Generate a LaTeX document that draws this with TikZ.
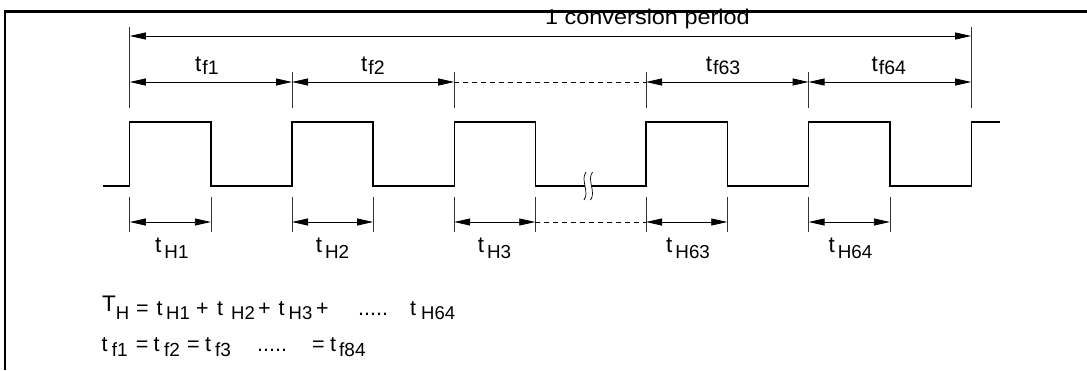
\documentclass[tikz,border=0pt]{standalone}
\usepackage{fontspec}
\setmainfont{Liberation Sans}
\newfontfamily\titlefont{Liberation Sans}[FakeStretch=1.1]
\usetikzlibrary{arrows.meta}
\newcommand{\tk}[2]{\makebox[#1pt][l]{#2}}
\newcommand{\sz}[2]{{\fontsize{#1}{#1}\selectfont #2}}
\newcommand{\dn}[3]{\raisebox{-#1pt}{\fontsize{#2}{#2}\selectfont #3}}
\begin{document}
\begin{tikzpicture}[x=1pt,y=-1pt,
  dim/.style={line width=0.8pt, {Triangle[length=16pt,width=7pt]}-{Triangle[length=16pt,width=7pt]}},
  ext/.style={line width=0.7pt, black!80},
  sig/.style={line width=1.3pt},
  frameln/.style={line width=2.4pt},
  dashln/.style={line width=0.8pt, dash pattern=on 5pt off 4pt},
  lbl/.style={anchor=base west, inner sep=0pt, font=\fontsize{22.5}{22.5}\selectfont},
  frm/.style={anchor=base west, inner sep=0pt, font=\fontsize{21.5}{21.5}\selectfont}]
\useasboundingbox (0,0) rectangle (1087,370);
% frame (top and left edges)
\draw[frameln] (5,370) -- (5,11.5) -- (1087,11.5);
% title
\node[anchor=base west, inner sep=0pt, font=\titlefont\fontsize{21.3}{21.3}\selectfont] (title) at (545,24.3) {1 conversion period};
% edge coordinates
\foreach \n/\x in {r1/129.8, f1/210.9, r2/292, f2/373.1, r3/454.2, f3/535.3, r4/646, f4/727.3, r5/808.6, f5/889.9, r6/971.2}{
  \coordinate (\n-t) at (\x,72);
  \coordinate (\n-m) at (\x,82);
  \coordinate (\n-b) at (\x,108);
  \coordinate (\n-lt) at (\x,197);
  \coordinate (\n-lm) at (\x,222);
  \coordinate (\n-lb) at (\x,232);
}
\coordinate (top1) at (129.8,27);
\coordinate (top6) at (971.2,27);
\coordinate (big1) at (129.8,36);
\coordinate (big6) at (971.2,36);
% extension lines (upper)
\draw[ext] (top1) -- (r1-b);
\draw[ext] (top6) -- (r6-b);
\foreach \n in {r2,r3,r4,r5}{ \draw[ext] (\n-t) -- (\n-b); }
% big arrow
\draw[dim] (big1) -- (big6);
% tf arrows
\draw[dim] (r1-m) -- (r2-m);
\draw[dim] (r2-m) -- (r3-m);
\draw[dashln] (r3-m) -- (r4-m);
\draw[dim] (r4-m) -- (r5-m);
\draw[dim] (r5-m) -- (r6-m);
% tf labels
\node[lbl] (tf1) at (195,71) {t\hspace{1pt}\dn{3}{19.5}{f1}};
\node[lbl] (tf2) at (361,71) {t\hspace{1pt}\dn{3}{19.5}{f2}};
\node[lbl] (tf63) at (705.7,71) {t\hspace{1pt}\dn{3}{19.5}{f63}};
\node[lbl] (tf64) at (871.5,71) {t\hspace{1pt}\dn{3}{19.5}{f64}};
% signal
\draw[sig] (103,186) -- (129.8,186) -- (129.8,122) -- (210.9,122) -- (210.9,186) -- (292,186) -- (292,122) -- (373.1,122) -- (373.1,186) -- (454.2,186) -- (454.2,122) -- (535.3,122) -- (535.3,186) -- (585,186);
\draw[sig] (591.5,186) -- (646,186) -- (646,122) -- (727.3,122) -- (727.3,186) -- (808.6,186) -- (808.6,122) -- (889.9,122) -- (889.9,186) -- (971.2,186) -- (971.2,122) -- (1000,122);
% break mark
\draw[line width=0.7pt] (586,172) .. controls (580,180) and (590,192) .. (584,200);
\draw[line width=0.7pt] (592.5,172) .. controls (586.5,180) and (596.5,192) .. (590.5,200);
% lower ticks
\foreach \n in {r1,f1,r2,f2,r3,f3,r4,f4,r5,f5}{ \draw[ext] (\n-lt) -- (\n-lb); }
\draw[dim] (r1-lm) -- (f1-lm);
\draw[dim] (r2-lm) -- (f2-lm);
\draw[dim] (r3-lm) -- (f3-lm);
\draw[dashln] (f3-lm) -- (r4-lm);
\draw[dim] (r4-lm) -- (f4-lm);
\draw[dim] (r5-lm) -- (f5-lm);
% tH labels
\node[lbl] (th1) at (155,252) {t\hspace{3pt}\dn{6.7}{18.8}{H1}};
\node[lbl] (th2) at (315.7,252) {t\hspace{3pt}\dn{6.7}{18.8}{H2}};
\node[lbl] (th3) at (477.7,252) {t\hspace{3pt}\dn{6.7}{18.8}{H3}};
\node[lbl] (th63) at (666,252) {t\hspace{3pt}\dn{6.7}{18.8}{H63}};
\node[lbl] (th64) at (828.3,252) {t\hspace{3pt}\dn{6.7}{18.8}{H64}};
% formulas
\node[frm] (eq1) at (102,315) {\tk{34}{\raisebox{4pt}{\sz{22.5}{T}}\dn{4.5}{18.5}{H}}\tk{20.5}{=}\tk{9.5}{t}\tk{30}{\dn{4.5}{18.5}{H1}}\tk{21}{+}\tk{14}{t}\tk{27}{\dn{4.5}{18.5}{H2}}\tk{20.5}{+}\tk{10}{t}\tk{27.5}{\dn{4.5}{18.5}{H3}}\tk{42}{+}\tk{52}{.....}\tk{11}{t}\dn{4.5}{18.5}{H64}};
\node[frm] (eq2) at (101.5,351) {\tk{10.2}{t}\tk{24}{\dn{5}{19}{f1}}\tk{17.8}{=}\tk{10.5}{t}\tk{23}{\dn{5}{19}{f2}}\tk{18}{=}\tk{10}{t}\tk{42}{\dn{5}{19}{f3}}\tk{55}{.....}\tk{18}{=}\tk{9}{t}\dn{5}{19}{f84}};
\end{tikzpicture}
\end{document}
